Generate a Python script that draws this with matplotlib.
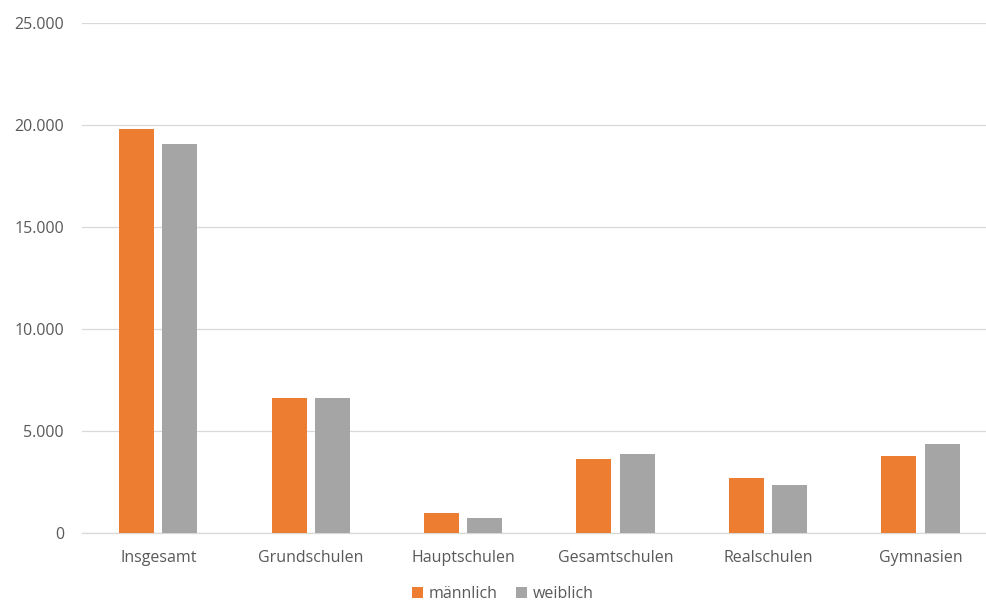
import matplotlib
matplotlib.use("Agg")
import matplotlib.pyplot as plt
import numpy as np
from matplotlib.ticker import FuncFormatter

categories = ["Insgesamt", "Grundschulen", "Hauptschulen", "Gesamtschulen", "Realschulen", "Gymnasien"]
maennlich = [19800, 6620, 1000, 3630, 2700, 3780]
weiblich = [19050, 6620, 750, 3870, 2350, 4360]
yticks = [0, 5000, 10000, 15000, 20000, 25000]

plt.rcParams['font.family'] = ['Open Sans', 'DejaVu Sans']

fig = plt.figure(figsize=(9.86, 6.02), dpi=100)
ax = fig.add_axes([0.0832, 0.1146, 0.9168, 0.8472])

x = np.arange(len(categories))
w = 0.23
off = 0.142
ax.bar(x - off, maennlich, w, color="#ED7D31", label="männlich", zorder=3)
ax.bar(x + off, weiblich, w, color="#A5A5A5", label="weiblich", zorder=3)

ax.set_xlim(-0.5, 5.43)
ax.set_ylim(0, 25000)
ax.set_yticks(yticks)
ax.yaxis.set_major_formatter(FuncFormatter(lambda v, p: f"{int(v):,}".replace(",", ".")))
ax.set_xticks(x)
ax.set_xticklabels(categories)
ax.grid(axis="y", color="#D9D9D9", linewidth=0.9, zorder=0)
for s in ["top", "right", "left"]:
    ax.spines[s].set_visible(False)
ax.spines["bottom"].set_color("#D9D9D9")
ax.spines["bottom"].set_linewidth(0.9)
ax.tick_params(axis="both", length=0, colors="#595959", labelsize=11.5)
ax.tick_params(axis="y", pad=13)
ax.tick_params(axis="x", pad=12)

leg = fig.legend(loc="center", bbox_to_anchor=(0.51, 0.013), ncol=2, frameon=False,
                 fontsize=11.5, handlelength=0.65, handleheight=0.65, handletextpad=0.35,
                 columnspacing=1.2)
for t in leg.get_texts():
    t.set_color("#595959")

fig.savefig("out.png", dpi=100)
